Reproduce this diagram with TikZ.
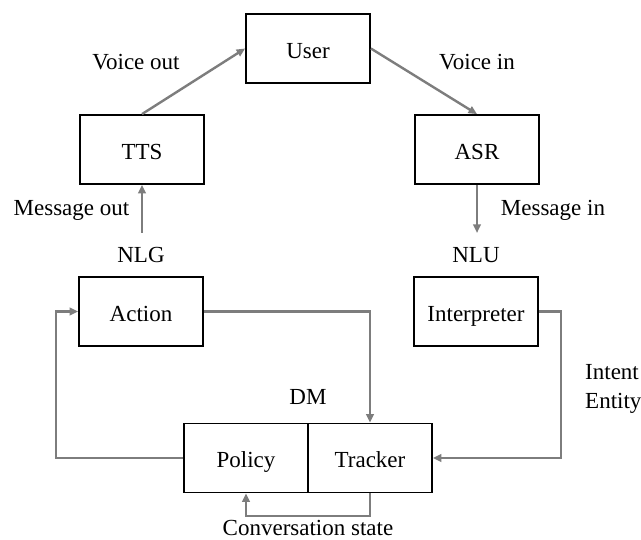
\documentclass[tikz,border=0pt]{standalone}
\usepackage{fontspec}
\setmainfont{Liberation Serif}
\usetikzlibrary{arrows.meta}
\definecolor{linkgray}{RGB}{125,125,125}
\tikzset{
  every node/.style={font=\fontsize{23}{27}\selectfont, text height=16pt, text depth=5pt},
  block/.style={draw=black, line width=1.8pt, minimum width=124pt, minimum height=69pt, inner sep=0pt, text height=20pt, text depth=0pt},
  link/.style={draw=linkgray, line width=2.4pt, -{Triangle[length=8.5pt,width=7.5pt]}},
  lbl/.style={inner sep=0pt}
}
\begin{document}
\begin{tikzpicture}[x=1pt,y=-1pt]
\useasboundingbox (0,0) rectangle (641,540);
% modules
\node[block] (user) at (308,48.5) {User};
\node[block] (tts) at (142,149.5) {TTS};
\node[block] (asr) at (477,149.5) {ASR};
\node[block] (action) at (141,311.5) {Action};
\node[block] (interp) at (476,311.5) {Interpreter};
\node[block] (policy) at (246,458) {Policy};
\node[block] (tracker) at (370,458) {Tracker};
% free ends and routing columns
\coordinate (msgout) at (142,233);
\coordinate (msgin) at (477,233);
\coordinate (lx) at (56,0);
\coordinate (rx) at (561,0);
\coordinate (sy) at (0,516);
% connectors
\draw[link] (tts.north) -- (user.west);
\draw[link] (user.east) -- (asr.north);
\draw[link] (msgout) -- (tts.south);
\draw[link] (asr.south) -- (msgin);
\draw[link] (action.east) -| (tracker.north);
\draw[link] (interp.east) -- (interp.east -| rx) |- (tracker.east);
\draw[link] (policy.west) -- (policy.west -| lx) |- (action.west);
\draw[link] (tracker.south) -- (tracker.south |- sy) -| (policy.south);
% labels
\node[lbl] (lvo) at (136,64) {Voice out};
\node[lbl] (lvi) at (477,64.5) {Voice in};
\node[lbl] (lmo) at (71.5,210) {Message out};
\node[lbl] (lmi) at (553,210) {Message in};
\node[lbl] (lnlg) at (141,257) {NLG};
\node[lbl] (lnlu) at (476,257) {NLU};
\node[lbl] (ldm) at (308,399.5) {DM};
\node[lbl, anchor=west] (lint) at (585,374) {Intent};
\node[lbl, anchor=west] (lent) at (585,403) {Entity};
\node[lbl] (lcs) at (308,530) {Conversation state};
\end{tikzpicture}
\end{document}
